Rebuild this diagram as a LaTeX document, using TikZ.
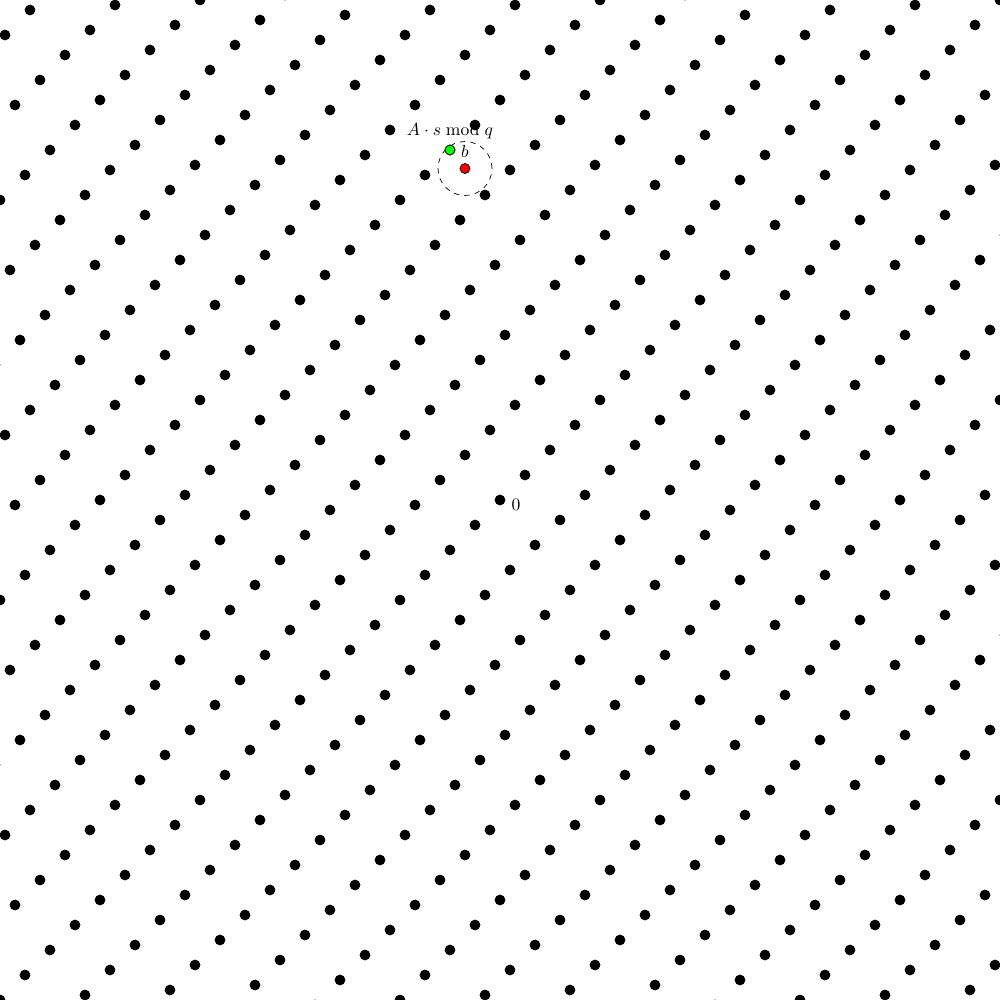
\documentclass[tikz,border=0pt]{standalone}
\usetikzlibrary{positioning}
\begin{document}
\begin{tikzpicture}[pt/.style={circle, inner sep=0pt, minimum size=2mm, draw, fill}]
\useasboundingbox (-10,-10) rectangle (10,10);
\clip (-10,-10) rectangle (10,10);
\coordinate (s) at (-1,7);
\coordinate (e) at (-0.7,6.63);
\node[above=1mm of s, inner sep=0.333em] (lbl) {$A \cdot s \bmod q$};
\node[above=1mm of e, inner sep=0.333em] (lblb) {$b$};
\foreach \a in {-13,...,13}
  \foreach \b in {-25,...,25}
    \node[pt] (p\a/\b) at ({1.7*\a-0.5*\b},{0.1*\a-0.5*\b}){};
\node[right=0pt of p0/0, yshift=-1mm] (zero) {$0$};
\draw[dashed] (e) circle (0.54);
\node[pt, fill=green] (As) at (s){};
\node[pt, fill=red] (b) at (e){};
\end{tikzpicture}
\end{document}
